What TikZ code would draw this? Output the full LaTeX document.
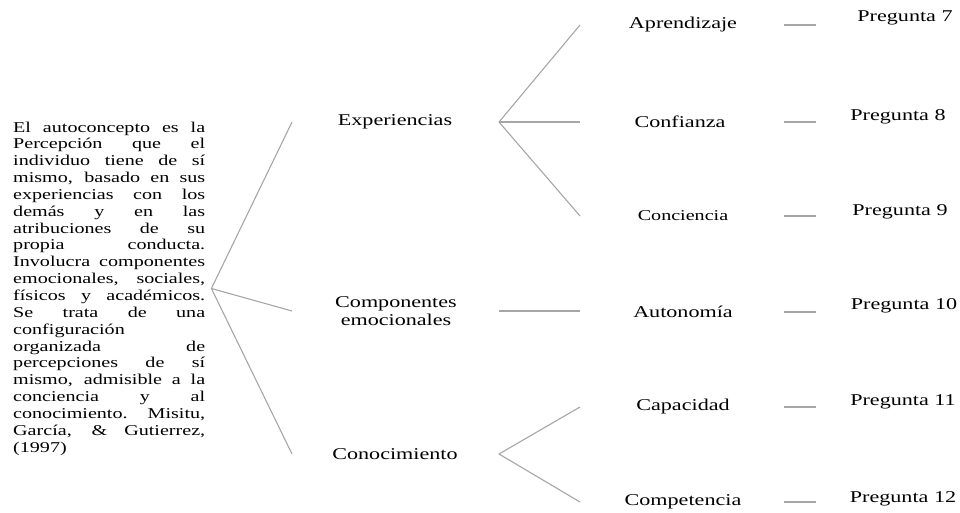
\documentclass[tikz,border=0pt]{standalone}
\usepackage{fontspec}
\setmainfont[FakeStretch=1.34]{Liberation Serif}
\tikzset{
  lbl/.style={inner sep=0pt, font=\fontsize{16.5}{18}\selectfont},
  gline/.style={draw=black!35, line width=1.1pt},
  dashln/.style={draw=black!35, line width=2pt}
}
\begin{document}
\begin{tikzpicture}[x=1pt,y=-1pt]
  \useasboundingbox (0,0) rectangle (960,513);

  % definition text
  \node[anchor=north west, inner sep=0pt, text width=192pt, align=justify,
        font=\fontsize{15}{16.84}\selectfont] (txt) at (13,121.5)
    {\tolerance=10000\hbadness=10000
     El autoconcepto es la\linebreak Percepción que el\linebreak
     individuo tiene de sí\linebreak mismo, basado en sus\linebreak
     experiencias con los\linebreak demás y en las\linebreak
     atribuciones de su\linebreak propia conducta.\linebreak
     Involucra componentes\linebreak emocionales, sociales,\linebreak
     físicos y académicos.\linebreak Se trata de una\linebreak
     configuración\linebreak organizada de\linebreak
     percepciones de sí\linebreak mismo, admisible a la\linebreak
     conciencia y al\linebreak conocimiento. Misitu,\linebreak
     García, \& Gutierrez,\linebreak (1997)};

  \node[lbl] (exp) at (395,122) {Experiencias};
  \node[lbl, align=center] (comp) at (396,311) {Componentes\\emocionales};
  \node[lbl] (cono) at (395,454) {Conocimiento};

  \node[lbl] (apr) at (683,25) {Aprendizaje};
  \node[lbl] (conf) at (680,122) {Confianza};
  \node[lbl, font=\fontsize{15}{17}\selectfont] (conc) at (683,216) {Conciencia};
  \node[lbl] (auto) at (683,312) {Autonomía};
  \node[lbl] (capa) at (683,407) {Capacidad};
  \node[lbl] (compe) at (683,502) {Competencia};

  \node[lbl] (p7) at (905,18) {Pregunta 7};
  \node[lbl] (p8) at (898,117) {Pregunta 8};
  \node[lbl] (p9) at (900,212) {Pregunta 9};
  \node[lbl] (p10) at (904,306) {Pregunta 10};
  \node[lbl] (p11) at (903,402) {Pregunta 11};
  \node[lbl] (p12) at (903,499) {Pregunta 12};

  \coordinate (v0) at ([xshift=6pt]txt.east);
  \coordinate (c1) at (292,0);
  \coordinate (c2) at (499,0);
  \coordinate (c3) at (580,0);
  \coordinate (dl) at (784,0);
  \coordinate (dr) at (816,0);

  \foreach \n in {exp,comp,cono}
    \draw[gline] (v0) -- (\n -| c1);
  \foreach \n in {apr,conf,conc}
    \draw[gline] (exp -| c2) -- (\n -| c3);
  \draw[gline] (comp -| c2) -- (comp -| c3);
  \foreach \n in {capa,compe}
    \draw[gline] (cono -| c2) -- (\n -| c3);

  \foreach \n in {apr,conf,conc,auto,capa,compe}
    \draw[dashln] (\n -| dl) -- (\n -| dr);
\end{tikzpicture}
\end{document}
